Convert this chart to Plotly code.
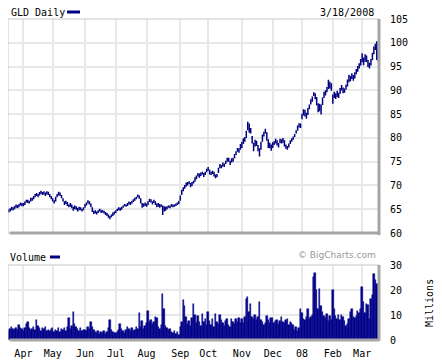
import plotly.graph_objects as go

# ---------------- data (GLD daily, 3/19/2007 - 3/18/2008) ----------------
month_labels = ["Apr", "May", "Jun", "Jul", "Aug", "Sep", "Oct", "Nov", "Dec", "08", "Feb", "Mar"]
# index of first trading day of each month in the series
month_start_idx = [10, 30, 52, 73, 94, 117, 136, 159, 180, 200, 221, 241]

close = [
    # Mar 2007
    64.7, 64.9, 65.3, 65.0, 65.5, 65.8, 65.4, 65.9, 66.2, 65.8,
    # Apr
    66.0, 66.4, 66.8, 66.6, 66.5, 67.2, 67.0, 67.6, 67.9, 68.1, 67.8, 68.4, 68.6, 68.2, 68.5, 68.0, 68.6, 68.3, 67.7, 67.4,
    # May
    66.8, 66.5, 67.4, 68.0, 68.4, 68.1, 67.5, 66.8, 66.2, 66.6, 65.9, 65.6, 66.0, 65.4, 65.0, 65.5, 65.2, 64.8, 65.3, 65.0, 64.7, 65.2,
    # Jun
    65.9, 66.2, 66.6, 66.3, 65.6, 64.6, 64.3, 64.5, 64.2, 64.6, 64.8, 64.4, 64.6, 64.3, 64.1, 63.8, 63.5, 63.3, 63.7, 64.0, 64.2,
    # Jul
    64.5, 64.9, 65.1, 65.0, 65.3, 65.6, 65.9, 65.7, 66.1, 66.3, 66.1, 66.6, 66.9, 67.2, 67.4, 67.9, 67.5, 66.4, 65.6, 65.9, 66.1,
    # Aug
    65.8, 66.5, 66.9, 66.6, 66.2, 66.8, 66.1, 65.6, 66.0, 65.5, 65.8, 64.6, 65.3, 65.0, 65.3, 65.6, 65.4, 65.9, 65.6, 65.8, 66.0, 66.2, 66.5,
    # Sep
    67.6, 68.9, 69.3, 69.8, 70.1, 70.4, 70.6, 69.9, 70.5, 70.8, 71.4, 71.7, 72.4, 71.9, 72.4, 72.6, 72.0, 72.7, 73.2,
    # Oct
    73.5, 72.5, 72.6, 72.8, 72.3, 71.9, 72.1, 73.4, 74.2, 73.8, 74.5, 74.2, 74.9, 75.5, 75.3, 74.6, 75.5, 75.4, 76.3, 77.0, 77.6, 77.3, 78.4,
    # Nov
    78.6, 79.5, 79.7, 81.2, 82.8, 81.9, 81.4, 79.0, 77.9, 79.3, 78.6, 77.5, 77.0, 78.9, 80.4, 81.0, 81.5, 79.8, 78.3, 78.6, 77.6,
    # Dec
    78.7, 79.0, 79.4, 78.8, 78.5, 79.5, 79.0, 79.7, 78.4, 78.0, 77.9, 78.6, 79.3, 79.6, 80.1, 80.6, 81.4, 82.3, 82.8, 82.6,
    # Jan 2008
    84.8, 85.6, 84.9, 84.4, 86.0, 86.7, 87.8, 88.3, 89.3, 88.5, 87.0, 85.9, 86.8, 86.0, 88.3, 89.3, 89.5, 90.4, 91.5, 90.8, 90.9,
    # Feb
    87.9, 89.4, 88.5, 89.6, 88.7, 90.2, 90.6, 89.7, 90.1, 90.8, 91.9, 92.8, 92.3, 93.1, 92.6, 93.4, 94.1, 94.6, 95.3, 95.9,
    # Mar
    96.7, 96.0, 97.2, 96.2, 95.4, 95.0, 96.1, 97.6, 98.8, 99.3, 99.6, 97.8,
]

high = [
    65.0, 65.2, 65.5, 65.4, 65.7, 66.0, 65.9, 66.1, 66.4, 66.3,
    66.3, 66.6, 67.0, 67.0, 66.8, 67.4, 67.4, 67.8, 68.2, 68.4, 68.2, 68.6, 68.9, 68.6, 68.8, 68.5, 68.8, 68.7, 68.2, 67.8,
    67.3, 66.9, 67.6, 68.2, 68.7, 68.5, 68.0, 67.3, 66.7, 66.8, 66.5, 66.0, 66.3, 66.0, 65.5, 65.8, 65.6, 65.3, 65.5, 65.4, 65.1, 65.4,
    66.1, 66.4, 66.9, 66.7, 66.2, 65.4, 64.7, 64.8, 64.5, 64.8, 65.1, 64.9, 64.8, 64.7, 64.4, 64.2, 63.9, 63.6, 63.9, 64.3, 64.5,
    64.8, 65.1, 65.4, 65.3, 65.5, 65.8, 66.1, 66.0, 66.3, 66.6, 66.5, 66.8, 67.1, 67.4, 67.6, 68.1, 67.9, 67.3, 66.3, 66.2, 66.4,
    66.2, 66.7, 67.2, 67.1, 66.7, 67.0, 66.7, 66.2, 66.3, 66.1, 66.0, 65.8, 65.6, 65.5, 65.6, 65.8, 65.8, 66.1, 66.0, 66.0, 66.2, 66.4, 66.8,
    67.9, 69.1, 69.6, 70.1, 70.6, 70.7, 70.9, 70.5, 70.7, 71.0, 71.7, 72.1, 72.6, 72.5, 72.7, 72.9, 72.6, 72.9, 73.5,
    73.9, 73.3, 72.9, 73.1, 72.9, 72.3, 72.4, 73.7, 74.5, 74.3, 74.8, 74.6, 75.2, 75.8, 75.8, 75.2, 75.7, 75.8, 76.6, 77.2, 77.9, 77.8, 78.7,
    79.2, 79.9, 80.2, 81.5, 83.4, 83.0, 82.1, 80.4, 79.0, 79.6, 79.4, 78.5, 77.8, 79.2, 80.7, 81.3, 81.9, 81.2, 79.7, 79.0, 78.6,
    79.1, 79.3, 79.8, 79.5, 78.9, 79.8, 79.7, 80.0, 79.5, 78.6, 78.3, 78.8, 79.5, 79.9, 80.3, 80.8, 81.6, 82.6, 83.1, 83.0,
    85.1, 86.0, 85.9, 85.3, 86.3, 87.0, 88.1, 88.7, 89.6, 89.4, 88.6, 87.3, 87.2, 87.0, 88.5, 89.7, 90.0, 90.7, 92.2, 91.8, 91.5,
    89.1, 89.7, 89.4, 89.9, 89.5, 90.5, 91.1, 90.6, 90.4, 91.2, 92.3, 93.3, 93.0, 93.6, 93.2, 93.8, 94.5, 95.1, 95.7, 96.6,
    97.8, 96.9, 97.6, 97.3, 96.4, 95.8, 96.6, 97.9, 99.2, 99.8, 100.3, 98.6,
]

low = [
    64.3, 64.5, 64.8, 64.8, 65.0, 65.3, 65.2, 65.4, 65.8, 65.6,
    65.6, 65.9, 66.4, 66.3, 66.2, 66.6, 66.8, 67.1, 67.5, 67.8, 67.5, 67.9, 68.2, 68.0, 68.1, 67.8, 68.1, 68.0, 67.5, 67.1,
    66.6, 66.2, 66.6, 67.5, 67.9, 67.8, 67.3, 66.6, 65.9, 66.1, 65.7, 65.4, 65.5, 65.2, 64.7, 65.0, 64.9, 64.5, 64.8, 64.8, 64.5, 64.8,
    65.3, 65.8, 66.2, 66.0, 65.4, 64.4, 64.0, 64.1, 63.9, 64.2, 64.5, 64.2, 64.3, 64.1, 63.8, 63.6, 63.2, 62.9, 63.3, 63.6, 63.9,
    64.2, 64.6, 64.8, 64.7, 64.9, 65.3, 65.6, 65.5, 65.7, 66.0, 65.9, 66.2, 66.5, 66.8, 67.1, 67.5, 67.2, 66.2, 65.3, 65.5, 65.7,
    65.5, 65.9, 66.5, 66.4, 66.0, 66.3, 65.9, 65.4, 65.5, 65.3, 65.5, 63.8, 64.5, 64.7, 65.0, 65.3, 65.2, 65.5, 65.4, 65.5, 65.7, 65.9, 66.1,
    66.8, 68.0, 68.8, 69.3, 69.7, 70.0, 70.3, 69.6, 69.9, 70.4, 70.8, 71.3, 71.9, 71.6, 72.0, 72.3, 71.8, 72.2, 72.8,
    73.1, 72.3, 72.2, 72.4, 71.9, 71.5, 71.7, 72.6, 73.6, 73.6, 74.0, 73.9, 74.5, 75.0, 75.0, 74.3, 74.8, 75.0, 75.7, 76.4, 77.1, 76.9, 77.5,
    77.9, 78.7, 79.2, 80.0, 81.6, 81.1, 80.9, 78.8, 77.2, 78.2, 78.3, 77.2, 76.1, 77.5, 79.2, 80.3, 80.9, 79.4, 77.9, 77.8, 77.3,
    77.9, 78.5, 78.8, 78.4, 78.0, 78.9, 78.8, 79.0, 78.2, 77.7, 77.5, 78.0, 78.7, 79.2, 79.6, 80.2, 80.9, 81.5, 82.2, 82.1,
    83.9, 84.7, 84.5, 84.0, 84.8, 86.0, 87.0, 87.6, 88.8, 88.1, 86.8, 85.4, 85.6, 84.9, 86.9, 88.4, 88.9, 89.6, 90.3, 90.4, 89.9,
    87.2, 88.4, 88.2, 88.6, 88.4, 89.3, 90.0, 89.4, 89.5, 90.2, 90.8, 91.7, 91.9, 92.4, 92.0, 92.5, 93.4, 93.9, 94.6, 95.2,
    95.9, 95.3, 96.0, 95.9, 94.9, 94.6, 95.2, 96.3, 97.6, 98.5, 96.4, 96.0,
]

# volume, millions of shares
volume = [
    3.8, 4.5, 5.2, 4.6, 3.9, 5.0, 4.2, 6.2, 4.8, 4.4,
    3.6, 4.9, 6.3, 7.2, 4.8, 3.9, 4.5, 5.1, 4.2, 7.9, 5.6, 4.7, 3.8, 4.9, 4.4, 5.3, 3.7, 4.1, 3.5, 4.6,
    4.8, 3.4, 4.2, 3.6, 4.9, 3.2, 4.4, 3.9, 4.7, 3.5, 5.2, 8.7, 4.6, 5.5, 11.2, 6.3, 5.1, 4.4, 3.8, 5.0, 3.6, 3.9,
    4.2, 3.6, 5.1, 4.4, 7.4, 5.3, 4.0, 3.2, 2.8, 3.5, 2.6, 3.1, 2.9, 3.7, 2.5, 3.3, 4.8, 8.2, 3.9, 3.1, 2.7,
    2.9, 3.4, 4.1, 6.5, 4.6, 3.5, 2.8, 3.9, 5.2, 4.3, 3.6, 4.8, 3.7, 4.2, 5.4, 4.5, 10.8, 5.1, 7.6, 4.4, 5.8,
    6.8, 11.8, 7.2, 8.1, 6.5, 7.3, 9.4, 8.8, 5.2, 4.5, 6.1, 18.3, 12.4, 5.6, 4.8, 3.9, 4.4, 3.3, 2.9, 3.6, 2.4, 3.1, 2.0,
    5.1, 7.4, 15.9, 13.8, 9.2, 6.4, 7.8, 5.5, 8.9, 14.5, 10.1, 6.7, 9.6, 7.2, 5.8, 10.5, 7.1, 8.3, 6.2,
    11.2, 7.6, 6.1, 8.4, 5.3, 10.6, 7.2, 6.4, 10.2, 8.1, 6.9, 5.7, 7.5, 8.6, 6.0, 5.2, 8.3, 7.1, 6.3, 8.5, 7.4, 9.0, 6.8,
    8.5, 6.7, 9.1, 16.5, 17.2, 11.4, 14.5, 9.3, 8.6, 10.2, 7.9, 9.4, 15.2, 8.1, 7.4, 5.9, 6.8, 9.6, 8.2, 7.0, 8.8,
    8.9, 6.7, 7.8, 8.2, 6.4, 7.5, 9.4, 7.1, 6.8, 7.9, 8.4, 6.2, 7.3, 6.9, 6.1, 4.2, 5.3, 3.6, 4.8, 12.3,
    10.8, 8.6, 7.9, 9.3, 12.5, 8.4, 9.1, 10.2, 25.3, 26.9, 19.9, 12.6, 20.6, 13.8, 11.2, 9.5, 8.7, 10.4, 7.6, 9.8, 8.2,
    19.9, 12.4, 9.6, 8.3, 9.9, 8.1, 10.2, 9.4, 7.8, 5.8, 6.5, 8.4, 11.2, 12.5, 9.3, 8.7, 9.6, 11.8, 10.9, 12.4,
    21.2, 15.2, 10.8, 14.5, 14.1, 8.4, 16.5, 18.2, 26.6, 24.1, 22.6, 20.6,
]

price_ticks = [60, 65, 70, 75, 80, 85, 90, 95, 100, 105]
volume_ticks = [0, 10, 20, 30]

day_idx = list(range(len(close)))

# ---------------- layout geometry (window pixels) ----------------
# the page body keeps its default 8px margin, so the figure is made 8px
# smaller; positions below are given in window pixels
OFF = 8
WIN_W, WIN_H = 442, 364
W, H = WIN_W - OFF, WIN_H - OFF
PL, PR, PT, PB = 8, 379, 19, 340          # plot block, window pixels
L, R, T, B = PL - OFF, WIN_W - PR, PT - OFF, WIN_H - PB
plot_w = W - L - R
plot_h = H - T - B


def px(x):
    return (x - PL) / plot_w


def py(y):
    return (PB - y) / plot_h


NAVY = "#000080"
GRID = "#e8e8e8"
MONO = "DejaVu Sans Mono"

fig = go.Figure()

fig.add_trace(go.Ohlc(
    x=day_idx, open=close, high=high, low=low, close=close,
    increasing=dict(line=dict(color=NAVY, width=1.5)),
    decreasing=dict(line=dict(color=NAVY, width=1.5)),
    tickwidth=0.35, xaxis="x", yaxis="y", hoverinfo="skip", showlegend=False,
))

fig.add_trace(go.Bar(
    x=day_idx, y=volume, marker=dict(color="#000088", line=dict(color="#000088", width=0.5)),
    xaxis="x2", yaxis="y2", hoverinfo="skip", showlegend=False,
))

xr = [-0.5, len(close) - 0.5]
axis_font = dict(family=MONO, size=10, color="#000")

fig.update_layout(
    width=W, height=H,
    margin=dict(l=L, r=R, t=T, b=B, autoexpand=False),
    paper_bgcolor="white", plot_bgcolor="white",
    bargap=0,
    font=axis_font,
    xaxis=dict(
        domain=[0, 1], anchor="y", range=xr, rangeslider=dict(visible=False), automargin=False,
        tickvals=month_start_idx, showticklabels=False,
        showgrid=True, gridcolor=GRID, gridwidth=2, zeroline=False, showline=False,
    ),
    yaxis=dict(
        domain=[py(233), 1], anchor="x", side="right", range=[60, 105], automargin=False,
        tickvals=price_ticks, showgrid=True, gridcolor=GRID, gridwidth=2,
        zeroline=False, showline=False, ticklabelstandoff=10, tickfont=axis_font,
    ),
    xaxis2=dict(
        domain=[0, 1], anchor="y2", range=xr, automargin=False,
        tickvals=month_start_idx, ticktext=month_labels,
        showgrid=True, gridcolor=GRID, gridwidth=2, zeroline=False, showline=False,
        ticks="outside", ticklen=4, tickcolor="rgba(0,0,0,0)", tickfont=axis_font,
    ),
    yaxis2=dict(
        domain=[0, py(265)], anchor="x2", side="right", range=[0, 30], automargin=False,
        tickvals=volume_ticks, showgrid=True, gridcolor=GRID, gridwidth=2,
        zeroline=False, showline=False, ticklabelstandoff=10, tickfont=axis_font,
    ),
)

shapes = []
for xa, ya in (("x", "y"), ("x2", "y2")):
    shapes.append(dict(type="rect", xref=f"{xa} domain", yref=f"{ya} domain",
                       x0=0, x1=1, y0=0, y1=1, line=dict(color="#c8c8c8", width=1), layer="above"))
    shapes.append(dict(type="line", xref=f"{xa} domain", yref=f"{ya} domain",
                       x0=1, x1=1, y0=-0.01, y1=1, line=dict(color="#a6a6a6", width=3), layer="above"))
    shapes.append(dict(type="line", xref=f"{xa} domain", yref=f"{ya} domain",
                       x0=0.005, x1=1, y0=0, y1=0, line=dict(color="#a6a6a6", width=3), layer="above"))

# legend dashes
shapes.append(dict(type="line", xref="paper", yref="paper", x0=px(67), x1=px(80), y0=py(12), y1=py(12),
                   line=dict(color=NAVY, width=3)))
shapes.append(dict(type="line", xref="paper", yref="paper", x0=px(50), x1=px(60), y0=py(257), y1=py(257),
                   line=dict(color=NAVY, width=3)))
fig.update_layout(shapes=shapes)

ann = [
    dict(text="GLD Daily", x=px(9), y=py(12), xanchor="left", yanchor="middle"),
    dict(text="3/18/2008", x=px(376), y=py(12), xanchor="right", yanchor="middle"),
    dict(text="Volume", x=px(8), y=py(257), xanchor="left", yanchor="middle"),
    dict(text="© BigCharts.com", x=px(378), y=py(255), xanchor="right", yanchor="middle",
         font=dict(family="DejaVu Sans", size=9, color="#999999")),
    dict(text="Millions", x=px(429), y=py(303), xanchor="center", yanchor="middle", textangle=-90),
]
for a in ann:
    a.update(xref="paper", yref="paper", showarrow=False)
    a.setdefault("font", axis_font)
fig.update_layout(annotations=ann)

fig.write_html("out.html")
